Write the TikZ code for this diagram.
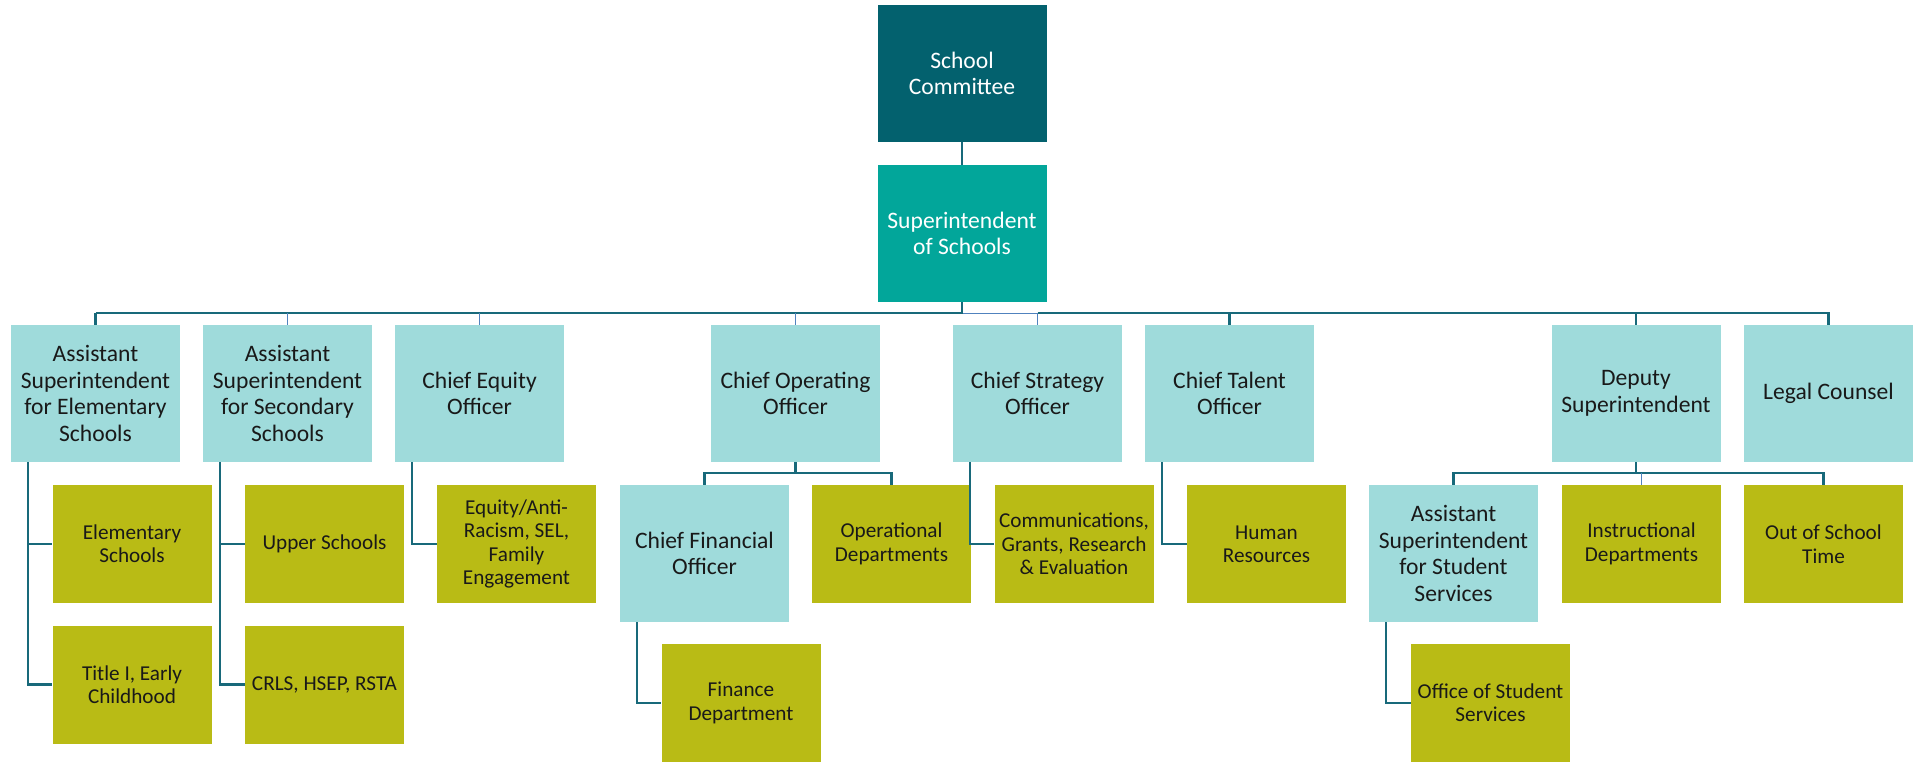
\documentclass[tikz,border=0pt]{standalone}
\usepackage{fontspec}
\setmainfont{Carlito}
\usetikzlibrary{positioning}

\definecolor{boardteal}{HTML}{03616E}
\definecolor{supteal}{HTML}{02A69A}
\definecolor{officeblue}{HTML}{9FDBDB}
\definecolor{deptolive}{HTML}{B9BB15}
\definecolor{linkteal}{HTML}{18697A}
\definecolor{linkblue}{HTML}{5082BE}

\begin{document}
\begin{tikzpicture}[x=0.5pt, y=-0.5pt,
  box/.style={minimum width=84.5pt, minimum height=68.5pt, inner sep=0pt,
    align=center, font=\fontsize{11.8}{13.3}\selectfont},
  board/.style={box, fill=boardteal, text=white},
  sup/.style={box, fill=supteal, text=white},
  office/.style={box, fill=officeblue, text=black!90},
  dept/.style={box, fill=deptolive, text=black!90, minimum width=79.5pt,
    minimum height=59pt, font=\fontsize{10.6}{11.7}\selectfont},
  link/.style={draw=linkteal, line width=1.1pt},
  faint/.style={draw=linkblue, line width=0.9pt}]

  \useasboundingbox (0,0) rectangle (1925,761);

  \node[board] (board) at (962,73.5) {School\\Committee};
  \node[sup] (supt) at (962,233.5) {Superintendent\\of Schools};

  % second row
  \node[office] (aselem) at (95.5,393.5) {Assistant\\Superintendent\\for Elementary\\Schools};
  \node[office] (assec) at (287.5,393.5) {Assistant\\Superintendent\\for Secondary\\Schools};
  \node[office] (equity) at (479.5,393.5) {Chief Equity\\Officer};
  \node[office] (coo) at (795.5,393.5) {Chief Operating\\Officer};
  \node[office] (cso) at (1037.5,393.5) {Chief Strategy\\Officer};
  \node[office] (talent) at (1229.5,393.5) {Chief Talent\\Officer};
  \node[office] (deputy) at (1636,393.5) {Deputy\\Superintendent};
  \node[office] (legal) at (1828.5,393.5) {Legal Counsel};

  % third row
  \node[dept] (elem) at (132,544) {Elementary\\Schools};
  \node[dept] (upper) at (324.5,544) {Upper Schools};
  \node[dept] (eqdept) at (516.5,544) {Equity/Anti-\\Racism, SEL,\\Family\\Engagement};
  \node[office] (cfo) at (704.5,553.5) {Chief Financial\\Officer};
  \node[dept] (opdept) at (891.5,544) {Operational\\Departments};
  \node[dept] (comms) at (1074,544) {Communications,\\Grants, Research\\\& Evaluation};
  \node[dept] (hr) at (1266.5,544) {Human\\Resources};
  \node[office] (asss) at (1453.5,553.5) {Assistant\\Superintendent\\for Student\\Services};
  \node[dept] (instr) at (1641.5,544) {Instructional\\Departments};
  \node[dept] (ost) at (1823.5,544) {Out of School\\Time};

  % fourth row
  \node[dept] (title) at (132,684.5) {Title I, Early\\Childhood};
  \node[dept] (crls) at (324.5,684.5) {CRLS, HSEP, RSTA};
  \node[dept] (finance) at (741,703) {Finance\\Department};
  \node[dept] (oss) at (1490.5,703) {Office of Student\\Services};

  % connectors
  \draw[link] (board) -- (supt);
  \draw[faint] (supt.south) ++(0,11) -| (cso.north);
  \draw[link] (aselem.north) ++(0,-12) -| (supt.south);
  \draw[link] (cso.north) ++(0,-12) -| (legal.north);
  \foreach \n in {aselem,talent,deputy}
    \draw[link] (\n.north) -- ++(0,-12);
  \foreach \n in {assec,equity,coo}
    \draw[faint] (\n.north) -- ++(0,-12);

  \draw[link] (coo.south) -- ++(0,11);
  \draw[link] (cfo.north) -- ++(0,-12) -| (opdept.north);
  \draw[link] (deputy.south) -- ++(0,11);
  \draw[link] (asss.north) -- ++(0,-12) -| (ost.north);
  \draw[faint] (instr.north) -- ++(0,-12);

  \foreach \p/\c in {aselem/elem, aselem/title, assec/upper, assec/crls,
      equity/eqdept, cso/comms, talent/hr, cfo/finance, asss/oss}
    \draw[link] ([xshift=8.75pt]\p.south west) |- (\c.west);
\end{tikzpicture}
\end{document}
